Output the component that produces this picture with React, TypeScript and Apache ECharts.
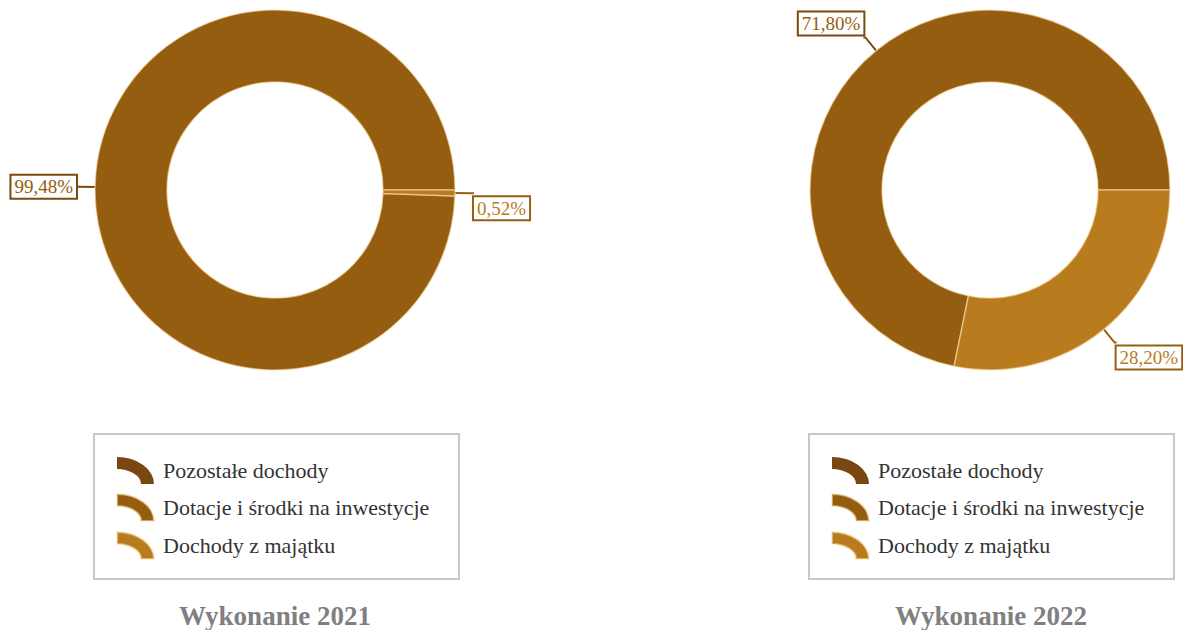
import React, { useEffect, useRef } from "react";
import * as echarts from "echarts";

const categories = ["Pozostałe dochody", "Dotacje i środki na inwestycje", "Dochody z majątku"];
const values2021 = [0, 99.48, 0.52];
const values2022 = [0, 71.8, 28.2];
const titles = ["Wykonanie 2021", "Wykonanie 2022"];
const colors = ["#7a4710", "#945d10", "#b87c1e"];
const darkColors = ["#5e360a", "#7a4a0e", "#955e10"];

const FONT = "Liberation Serif";
const ICON = "path://M0,0 A37,27 0 0 1 37,27 L24,27 A24,15 0 0 0 0,12 Z";

function buildData(vals: number[]) {
  return categories.map((name, i) => ({
    name,
    value: vals[i],
    itemStyle: {
      color: colors[i],
      borderWidth: vals[i] > 0 ? 1.5 : 0,
      borderColor: "rgba(255,225,180,0.55)",
    },
    label: { show: vals[i] > 0, color: colors[i], borderColor: darkColors[i] },
    labelLine: { show: vals[i] > 0, lineStyle: { color: darkColors[i], width: 2 } },
  }));
}

function pieSeries(vals: number[], cx: number) {
  return {
    type: "pie",
    center: [cx, 190],
    radius: [108, 180],
    startAngle: 0,
    clockwise: false,
    avoidLabelOverlap: false,
    silent: true,
    data: buildData(vals),
    label: {
      position: "outside",
      formatter: (p: any) => Number(p.value).toFixed(2).replace(".", ",") + "%",
      fontFamily: FONT,
      fontSize: 19,
      backgroundColor: "#fff",
      borderWidth: 2,
      padding: [2, 3, 1, 3],
      distanceToLabelLine: 0,
    },
    labelLine: { length: 17, length2: 2, smooth: false },
    labelLayout: (p: any) => {
      const pts = p.labelLinePoints;
      if (!pts) return {};
      const start = pts[0];
      const end = pts[pts.length - 1];
      const h = p.labelRect.height;
      if (end[0] > start[0]) return { dy: h / 2 + 2 };
      if (end[1] < start[1] - 5) return { dy: -h / 2 - 1 };
      return {};
    },
  };
}

function legend(left: number) {
  return {
    orient: "vertical",
    left,
    top: 457,
    padding: 0,
    itemWidth: 37,
    itemHeight: 27,
    itemGap: 9,
    icon: ICON,
    selectedMode: false,
    data: categories,
    textStyle: { fontFamily: FONT, fontSize: 22, color: "#333", padding: [0, 0, 0, 4] },
  };
}

function box(x: number) {
  return {
    type: "rect",
    shape: { x, y: 434, width: 365, height: 145 },
    style: { fill: "transparent", stroke: "#c8c8c8", lineWidth: 2 },
    silent: true,
  };
}

function title(text: string, cx: number) {
  return {
    text,
    left: cx,
    top: 602,
    textAlign: "center",
    padding: 0,
    textStyle: { fontFamily: FONT, fontWeight: "bold", fontSize: 27, color: "#808080", lineHeight: 28 },
  };
}

export default function App() {
  const ref = useRef<HTMLDivElement>(null);
  useEffect(() => {
    if (!ref.current) return;
    const chart = echarts.init(ref.current, null, { renderer: "svg" });
    chart.setOption({
      animation: false,
      color: colors,
      title: [title(titles[0], 275), title(titles[1], 991)],
      legend: [legend(116), legend(831)],
      graphic: [box(94), box(809)],
      series: [pieSeries(values2021, 275), pieSeries(values2022, 990)],
    });
    return () => chart.dispose();
  }, []);
  return (
    <div
      ref={ref}
      style={{ position: "fixed", left: 0, top: 0, width: 1183, height: 630, background: "#fff" }}
    />
  );
}
